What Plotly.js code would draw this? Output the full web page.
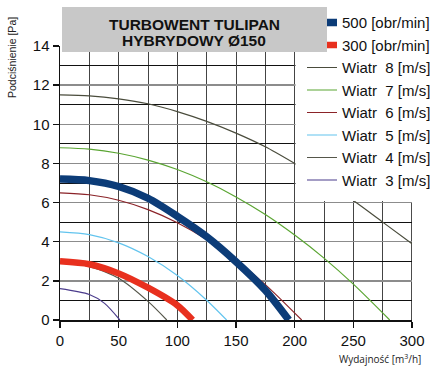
<!DOCTYPE html>
<html>
<head>
<meta charset="utf-8">
<script src="https://cdn.plot.ly/plotly-3.0.1.min.js"></script>
<style>html,body{margin:0;padding:0;background:#fff;}#chart{width:433px;height:367px;}</style>
</head>
<body>
<div id="chart"></div>
<script>
// Data
const flow500 = [0, 25, 50, 75, 100, 125, 150, 175, 195];
const pres500 = [7.2, 7.12, 6.82, 6.22, 5.3, 4.26, 2.98, 1.52, 0];
const flow300 = [0, 25, 50, 75, 100, 113];
const pres300 = [3.0, 2.85, 2.38, 1.65, 0.75, 0];
const w8x = [0, 25, 50, 75, 100, 125, 150, 175, 200, 225, 250, 275, 300];
const w8y = [11.5, 11.45, 11.3, 11.05, 10.65, 10.15, 9.55, 8.85, 8.0, 7.1, 6.1, 5.0, 3.9];
const w7x = [0, 25, 50, 75, 100, 125, 150, 175, 200, 225, 250, 281];
const w7y = [8.8, 8.73, 8.52, 8.17, 7.69, 7.06, 6.29, 5.39, 4.34, 3.16, 1.83, 0];
const w6x = [0, 25, 50, 75, 100, 125, 150, 175, 206];
const w6y = [6.5, 6.4, 6.12, 5.64, 4.97, 4.11, 3.05, 1.81, 0];
const w5x = [0, 25, 50, 75, 100, 125, 142];
const w5y = [4.5, 4.36, 3.94, 3.24, 2.27, 1.01, 0];
const w4x = [0, 25, 50, 75, 91];
const w4y = [2.95, 2.73, 2.13, 0.95, 0];
const w3x = [0, 25, 38, 51];
const w3y = [1.6, 1.3, 0.85, 0];

const seriesNames = ['500 [obr/min]', '300 [obr/min]', 'Wiatr\u00a0 8 [m/s]', 'Wiatr\u00a0 7 [m/s]',
  'Wiatr\u00a0 6 [m/s]', 'Wiatr\u00a0 5 [m/s]', 'Wiatr\u00a0 4 [m/s]', 'Wiatr\u00a0 3 [m/s]'];
const xTicks = [0, 50, 100, 150, 200, 250, 300];
const yTicks = [0, 2, 4, 6, 8, 10, 12, 14];
const titleLines = ['TURBOWENT TULIPAN', 'HYBRYDOWY Ø150'];
const xTitle = 'Wydajność [m<sup>3</sup>/h]';
const yTitle = 'Podciśnienie [Pa]';

function tr(x, y, name, color, width) {
  return {x: x, y: y, name: name, type: 'scatter', mode: 'lines',
    line: {color: color, width: width, shape: 'spline', smoothing: 0.8}};
}

const data = [
  tr(w3x, w3y, seriesNames[7], '#4b3c8c', 1.2),
  tr(w4x, w4y, seriesNames[6], '#55564a', 1.2),
  tr(w5x, w5y, seriesNames[5], '#62c4ee', 1.2),
  tr(w6x, w6y, seriesNames[4], '#8b2328', 1.2),
  tr(w7x, w7y, seriesNames[3], '#5aa532', 1.2),
  tr(w8x, w8y, seriesNames[2], '#4a4c3c', 1.2),
  tr(flow300, pres300, seriesNames[1], '#e8301e', 6.5),
  tr(flow500, pres500, seriesNames[0], '#0c3c78', 7.5)
];

const layout = {
  width: 433, height: 367,
  margin: {l: 60, r: 21, t: 46, b: 47, pad: 0, autoexpand: false},
  paper_bgcolor: '#fff', plot_bgcolor: '#fff',
  font: {family: 'Liberation Sans, Arial, sans-serif', color: '#111', size: 15},
  showlegend: true,
  legend: {
    traceorder: 'reversed', x: 0.6875, xanchor: 'left', y: 1.145, yanchor: 'top',
    bgcolor: 'rgba(0,0,0,0)', borderwidth: 0, itemwidth: 30,
    font: {family: 'Liberation Sans, Arial, sans-serif', size: 15, color: '#111'},
    tracegroupgap: 0
  },
  xaxis: {
    range: [0, 300], tickvals: xTicks, ticktext: xTicks.map(String),
    ticks: 'outside', ticklen: 6, tickcolor: '#111', tickwidth: 1.5,
    showline: true, linecolor: '#111', linewidth: 1.5, zeroline: false,
    showgrid: true, gridcolor: '#444', gridwidth: 1,
    minor: {dtick: 25, tick0: 0, showgrid: true, gridcolor: '#444', gridwidth: 1},
    fixedrange: true
  },
  yaxis: {
    range: [0, 14], tickvals: yTicks, ticktext: yTicks.map(String),
    ticks: 'outside', ticklen: 6, tickcolor: '#111', tickwidth: 1.5,
    showline: true, linecolor: '#111', linewidth: 1.5, zeroline: false,
    showgrid: true, gridcolor: '#8c8c8c', gridwidth: 1.5,
    minor: {dtick: 1, tick0: 0, showgrid: true, gridcolor: '#111', gridwidth: 1},
    fixedrange: true
  },
  shapes: [
    {type: 'rect', layer: 'above', xref: 'x', yref: 'y', x0: 200.7, x1: 310, y0: 6.08, y1: 15,
      fillcolor: '#fff', line: {width: 0}},
    {type: 'line', layer: 'below', xref: 'x', yref: 'y', x0: 300, x1: 300, y0: 0, y1: 6,
      line: {color: '#111', width: 1.5}}
  ],
  annotations: [
    {text: '&nbsp;', xref: 'paper', yref: 'paper', x: 0.382, y: 1.0585,
      xanchor: 'center', yanchor: 'middle', showarrow: false, width: 265, height: 45,
      bgcolor: '#c8c8c8', borderpad: 0, borderwidth: 0,
      font: {family: 'Liberation Sans, Arial, sans-serif', size: 15, color: '#111'}},
    {text: '<b>' + titleLines[0] + '</b>', xref: 'paper', yref: 'paper', x: (194 - 60) / 352, y: (320 - 24.5) / 274,
      xanchor: 'center', yanchor: 'middle', showarrow: false,
      font: {family: 'Liberation Sans, Arial, sans-serif', size: 15.5, color: '#111'}},
    {text: '<b>' + titleLines[1] + '</b>', xref: 'paper', yref: 'paper', x: (194 - 60) / 352, y: (320 - 40.5) / 274,
      xanchor: 'center', yanchor: 'middle', showarrow: false,
      font: {family: 'Liberation Sans, Arial, sans-serif', size: 15.5, color: '#111'}},
    {text: yTitle, xref: 'paper', yref: 'paper', x: (12 - 60) / 352, y: (320 - 58) / 274,
      xanchor: 'center', yanchor: 'middle', textangle: -90, showarrow: false,
      font: {family: 'Liberation Sans, Arial, sans-serif', size: 10.5, color: '#222'}},
    {text: xTitle, xref: 'paper', yref: 'paper', x: (423 - 60) / 352, y: (320 - 359) / 274,
      xanchor: 'right', yanchor: 'middle', showarrow: false,
      font: {family: 'Open Sans, sans-serif', size: 10, color: '#222'}}
  ]
};

Plotly.newPlot('chart', data, layout, {displayModeBar: false, staticPlot: true});
</script>
</body>
</html>
